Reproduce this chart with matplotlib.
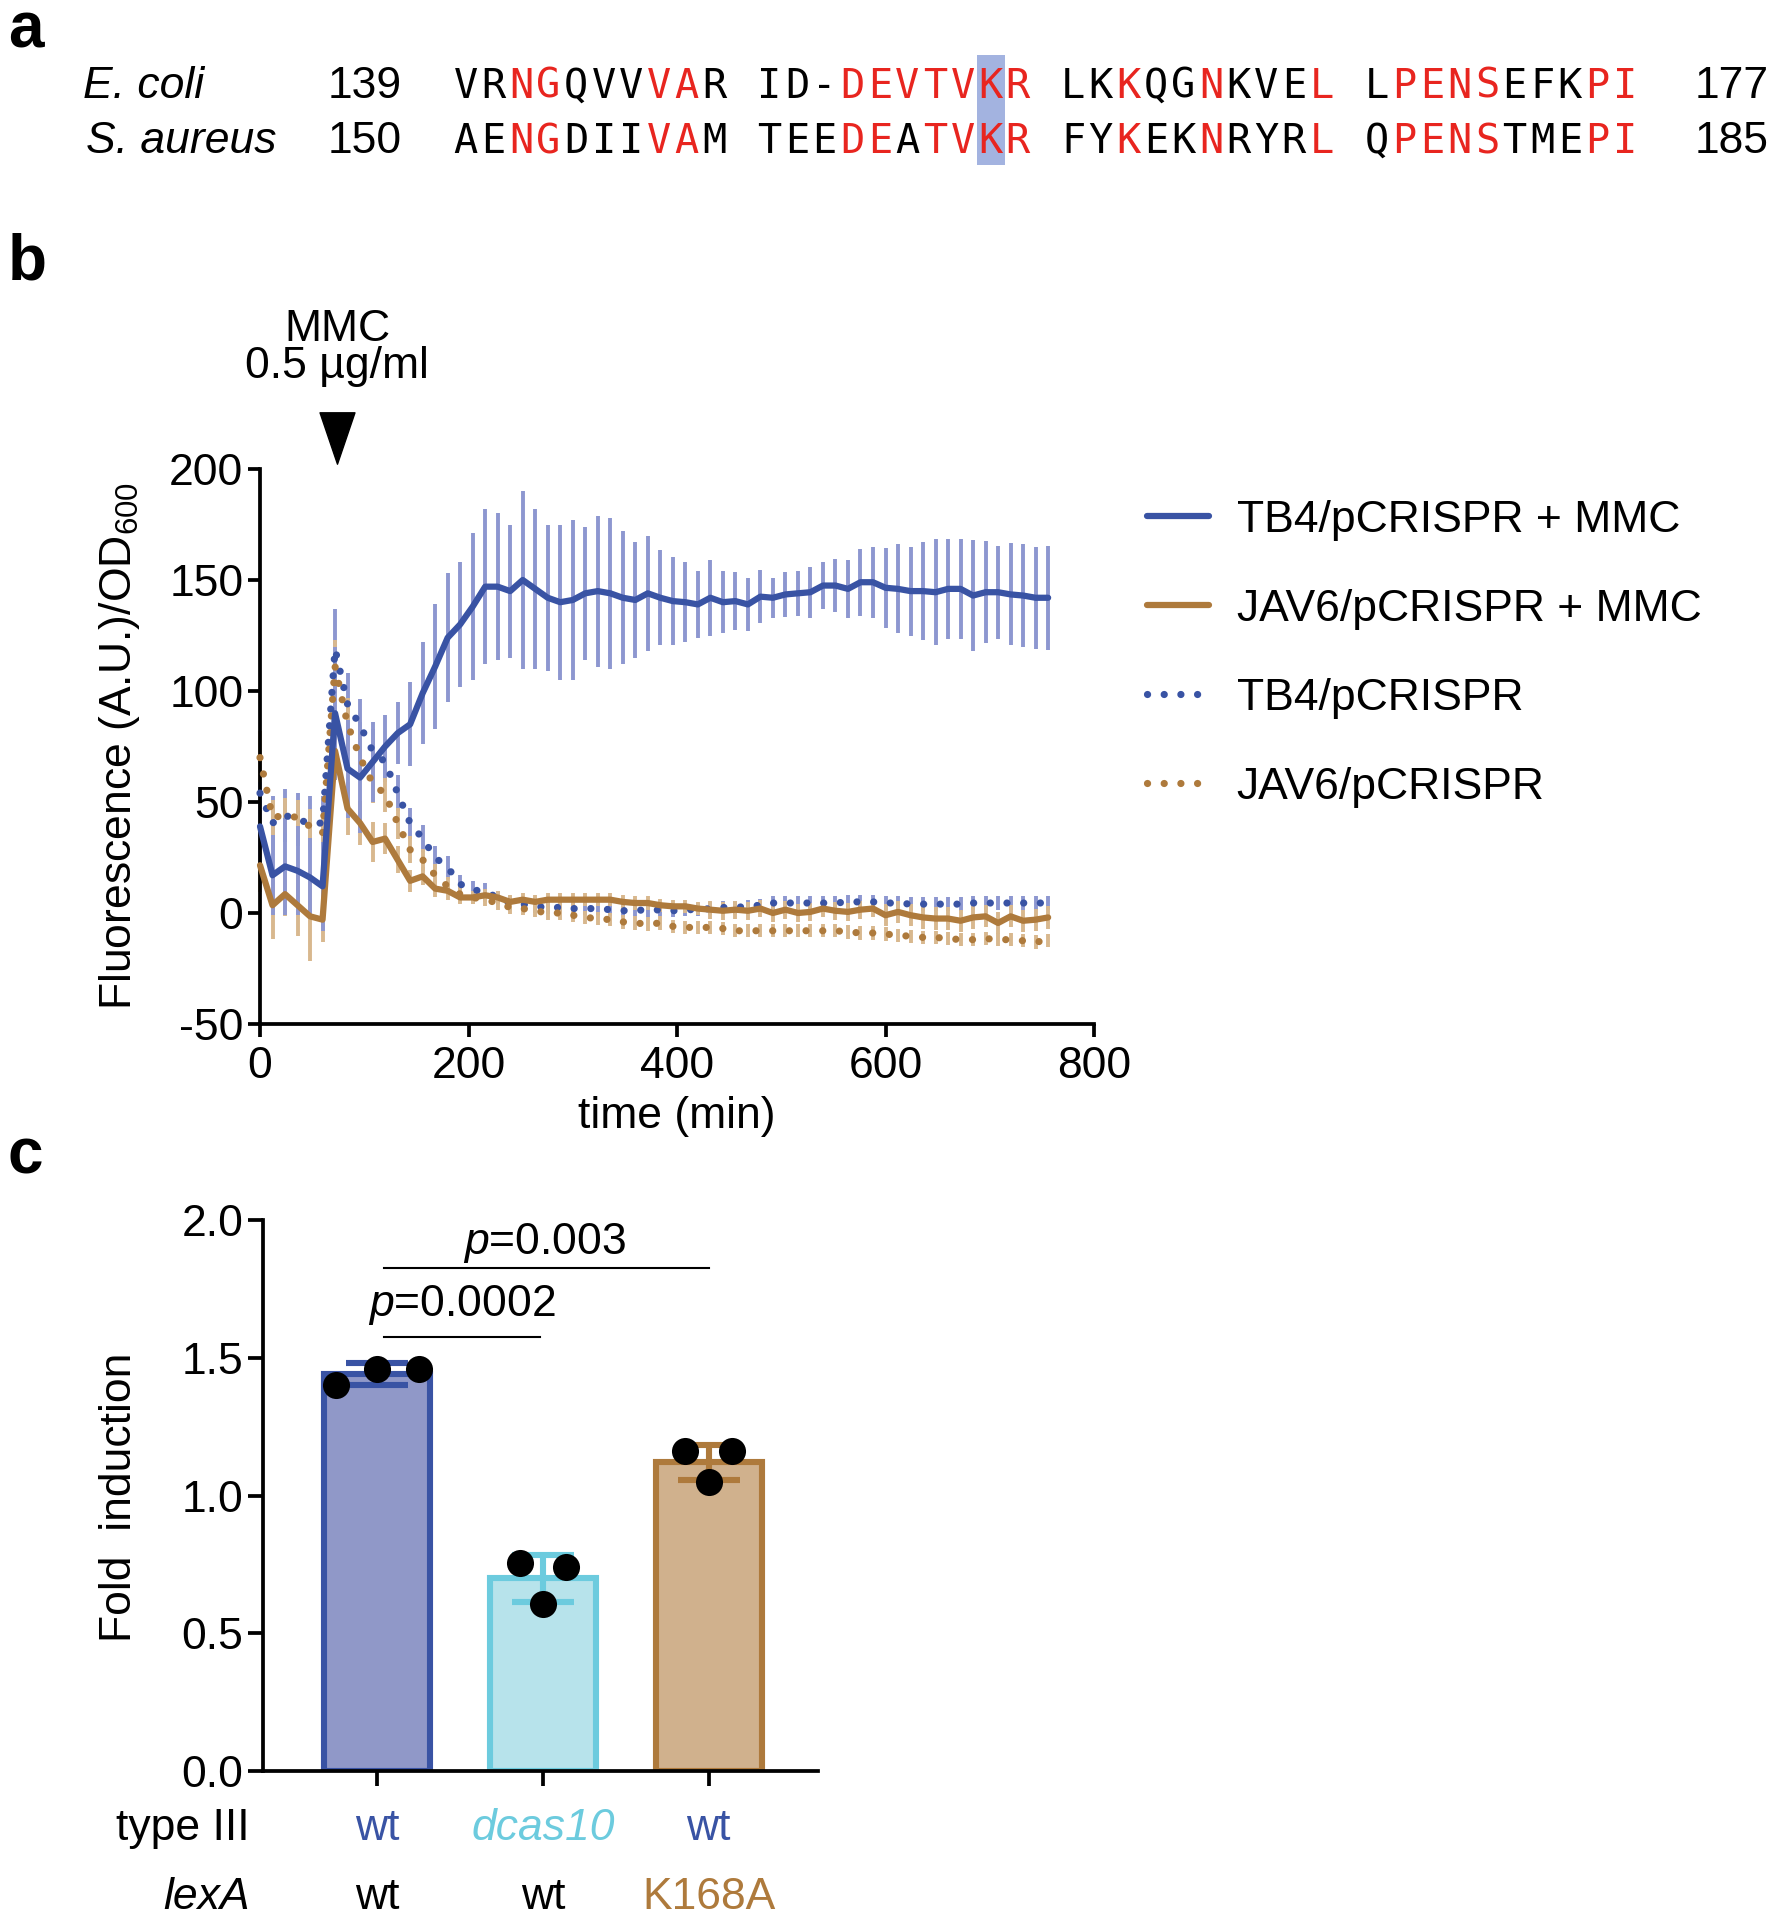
import numpy as np
import matplotlib
matplotlib.use('Agg')
import matplotlib.pyplot as plt
from matplotlib.patches import Rectangle
from matplotlib.lines import Line2D
from matplotlib.path import Path

plt.rcParams['font.family'] = ['Liberation Sans', 'DejaVu Sans']
plt.rcParams['mathtext.fontset'] = 'custom'
plt.rcParams['mathtext.rm'] = 'Liberation Sans'
plt.rcParams['mathtext.it'] = 'Liberation Sans:italic'
plt.rcParams['axes.unicode_minus'] = False

# ---------------- data ----------------
# panel a: LexA alignment
species = ['E. coli', 'S. aureus']
start_pos = ['139', '150']
end_pos = ['177', '185']
sequences = ['VRNGQVVVAR ID-DEVTVKR LKKQGNKVEL LPENSEFKPI',
             'AENGDIIVAM TEEDEATVKR FYKEKNRYRL QPENSTMEPI']
red_masks = ['..xx...xx. ...xxxxxxx ..x..x...x .xxxx...xx',
             '..xx...xx. ...xx.xxxx ..x..x...x .xxxx...xx']
highlight_col = 19

# panel b: fluorescence time course (min)
time = [0, 12, 24, 36, 48, 60, 72, 84, 96, 108, 120, 132, 144, 156, 168, 180,
        192, 204, 216, 228, 240, 252, 264, 276, 288, 300, 312, 324, 336, 348,
        360, 372, 384, 396, 408, 420, 432, 444, 456, 468, 480, 492, 504, 516,
        528, 540, 552, 564, 576, 588, 600, 612, 624, 636, 648, 660, 672, 684,
        696, 708, 720, 732, 744, 756]
tb4_mmc = [39, 17, 21, 19, 16, 12, 90, 65, 61, 68, 75, 81, 85, 99, 111, 124, 130, 138, 147, 147,
           145, 150, 146, 142, 140, 141, 144, 145, 144, 142, 141, 144, 142, 140.5, 140, 139, 142, 140,
           140.5, 139, 142.5, 142, 143.5, 144, 144.5, 147.5, 147.5, 146, 149, 149, 146.5, 146, 145,
           145, 144.5, 146, 146, 143, 144.5, 144.5, 143.5, 143, 142, 142]
tb4_mmc_sd = [20, 18, 22, 20, 18, 20, 30, 22, 25, 18, 14, 14, 19, 23, 28, 29, 28, 33, 35, 33,
              30, 40, 36, 33, 35, 36, 30, 34, 34, 30, 26, 26, 21.5, 20, 18, 15, 17, 14, 13, 12,
              12, 9, 10, 10, 11.5, 10.5, 12, 13, 15, 16, 18, 20, 20, 22, 24, 22.5, 22.5, 25, 23, 21,
              23, 23, 23, 23.5]
jav6_mmc = [21.5, 3.5, 8.5, 3.5, -1.5, -3, 73, 47, 40.5, 32, 33.5, 24, 14.5, 16.5, 11, 10, 7, 7, 8, 7,
            5, 6, 5, 6, 6, 6, 6, 6, 6, 5, 4.5, 4.5, 3.5, 3, 3, 2, 1.5, 1, 1.5, 1,
            2, 0, 1.5, 0, 0.5, 2, 1, 0.5, 1.5, 2, -1, 0.5, -1, -2, -2.5, -2.5, -3.5, -2, -1.5, -4.5,
            -1.5, -3.5, -3, -2]
jav6_mmc_sd = [12, 15, 10, 14, 20, 10, 12, 12, 10, 9, 7, 6, 5, 4, 4, 4, 3, 3, 3, 3,
               3, 3, 3, 3, 3, 3, 3, 3, 3, 3, 3, 3, 3, 3, 3, 3, 4, 4, 4, 4,
               4, 4, 4, 4, 4, 4, 4, 4, 4, 4, 5, 5, 5, 5, 5, 5, 5, 5, 5, 5,
               5, 5, 5, 5]
tb4 = [54, 40.5, 44, 42, 40.5, 40.5, 119, 94, 84.5, 73, 68, 54, 40.5, 33.5, 25, 20.5, 13, 10.5, 9.5, 7,
       4.5, 4, 3, 2.5, 2.5, 2, 2, 2, 1.5, 1, 1.5, 1, 1.5, 1, 1.5, 1.5, 2, 2.5, 2.5, 3,
       3.5, 4.5, 4.5, 4.5, 4.5, 4.5, 4.5, 5, 5, 5, 4.5, 4.5, 4, 4, 4, 4, 4, 4.5, 4.5, 4.5,
       4.5, 4.5, 4.5, 4.5]
tb4_sd = [15, 12, 12, 12, 12, 12, 18, 14, 12, 10, 9, 8, 7, 6, 5, 5, 4, 4, 4, 3,
          3, 3, 3, 3, 3, 3, 3, 3, 3, 3, 3, 3, 3, 3, 3, 3, 3, 3, 3, 3,
          3, 3, 3, 3, 3, 3, 3, 3, 3, 3, 3, 3, 3, 3, 3, 3, 3, 3, 3, 3,
          3, 3, 3, 3]
jav6 = [70, 43, 44, 43, 39, 36, 111, 85, 70, 58.5, 53.5, 40.5, 28.5, 24, 17, 12, 8.5, 7, 6, 4.5,
        2.5, 2, 1, 0, 0, -1, -2, -2.5, -3, -4, -4.5, -5, -4.5, -6, -6.5, -6.5, -6.5, -7, -8, -8,
        -8, -8, -8, -8, -8, -8, -8, -8.5, -9, -9, -9.5, -10, -10.5, -11, -11, -11.5, -12, -12, -11.5, -12,
        -12, -12.5, -13, -12.5]
jav6_sd = [12, 8, 8, 8, 8, 8, 12, 12, 10, 9, 8, 7, 6, 5, 5, 4, 4, 3, 3, 3,
           3, 3, 3, 3, 3, 3, 3, 3, 3, 3, 3, 3, 3, 3, 3, 3, 3, 3, 3, 3,
           3, 3, 3, 3, 3, 3, 3, 3, 3, 3, 3, 3, 3, 3, 3, 3, 3, 3, 3, 3,
           3, 3, 3, 3]
series_labels = ['TB4/pCRISPR + MMC', 'JAV6/pCRISPR + MMC', 'TB4/pCRISPR', 'JAV6/pCRISPR']

# panel c: fold induction
type3 = ['wt', 'dcas10', 'wt']
lexA = ['wt', 'wt', 'K168A']
fold_mean = [1.44, 0.70, 1.12]
fold_sd = [0.04, 0.085, 0.065]
fold_reps = [[1.40, 1.46, 1.46], [0.755, 0.74, 0.605], [1.16, 1.16, 1.05]]
p_values = ['0.0002', '0.003']

# ---------------- style ----------------
BLUE = '#3953A4'
BROWN = '#AE7A3C'
BLUE_ERR = '#8D97D0'
BROWN_ERR = '#D8B88E'
CYAN = '#6CCBDE'
RED = '#E8251F'
FS = 32
W, H = 1777, 1920

fig = plt.figure(figsize=(W / 100, H / 100), dpi=100)


def fig_box(x0, y0, x1, y1):
    return [x0 / W, 1 - y1 / H, (x1 - x0) / W, (y1 - y0) / H]


# overlay in pixel coords for panel a and panel letters
ov = fig.add_axes([0, 0, 1, 1])
ov.set_xlim(0, W)
ov.set_ylim(H, 0)
ov.axis('off')

for lab, y in zip(['a', 'b', 'c'], [47, 279, 1173]):
    ov.text(8, y, lab, fontsize=46, fontweight='bold', va='baseline', ha='left')

pitch = 27.6
seq_x0 = 452
ov.add_patch(Rectangle((seq_x0 + highlight_col * pitch + 1, 55), pitch, 110,
                       color='#A3B3E0', lw=0, zorder=0))
for row, yb in enumerate([98, 153]):
    ov.text(83 if row == 0 else 86, yb, species[row], style='italic', fontsize=FS, va='baseline')
    ov.text(328, yb, start_pos[row], fontsize=FS, va='baseline')
    ov.text(1695, yb, end_pos[row], fontsize=FS, va='baseline')
    for j, (ch, m) in enumerate(zip(sequences[row], red_masks[row])):
        if ch == ' ':
            continue
        ov.text(seq_x0 + (j + 0.5) * pitch, yb, ch, family='DejaVu Sans Mono', fontsize=29,
                color=RED if m == 'x' else 'black', ha='center', va='baseline', zorder=2)

# ---------------- panel b ----------------
axb = fig.add_axes(fig_box(260, 469, 1094, 1024))
t = np.array(time)
dot = (0, (0.01, 2.3))
specs = [(tb4, tb4_sd, BLUE, BLUE_ERR, dot),
         (jav6, jav6_sd, BROWN, BROWN_ERR, dot),
         (jav6_mmc, jav6_mmc_sd, BROWN, BROWN_ERR, '-'),
         (tb4_mmc, tb4_mmc_sd, BLUE, BLUE_ERR, '-')]
for vals, sd, col, ecol, ls in specs:
    v = np.array(vals)
    s = np.array(sd)
    axb.vlines(t, v - s, v + s, colors=ecol, lw=2.8, zorder=1, clip_on=False)
for vals, sd, col, ecol, ls in specs:
    axb.plot(t, vals, color=col, lw=5.2 if ls == dot else 4.5, ls=ls, dash_capstyle='round',
             solid_capstyle='round', solid_joinstyle='round', zorder=3, clip_on=False)

axb.set_xlim(0, 800)
axb.set_ylim(-50, 200)
axb.set_xticks([0, 200, 400, 600, 800])
axb.set_yticks([-50, 0, 50, 100, 150, 200])
for s in ['top', 'right']:
    axb.spines[s].set_visible(False)
for s in ['left', 'bottom']:
    axb.spines[s].set_linewidth(2.7)
axb.tick_params(width=2.7, length=9, labelsize=FS, direction='out')
axb.tick_params(axis='x', pad=7)
axb.tick_params(axis='y', pad=3)
axb.text(-0.168, 0.5, 'Fluorescence (A.U.)/OD$_{600}$', transform=axb.transAxes,
         rotation=90, ha='center', va='center', fontsize=FS)
axb.text(0.5, -0.166, 'time (min)', transform=axb.transAxes, ha='center', va='center',
         fontsize=FS)

tri = Path([(-0.68, 1), (0.68, 1), (0, -1), (-0.68, 1)],
           [Path.MOVETO, Path.LINETO, Path.LINETO, Path.CLOSEPOLY])
axb.plot([74], [214], marker=tri, ms=37, color='black', clip_on=False, ls='none')
axb.text(74, 263, 'MMC', ha='center', va='center', fontsize=FS)
axb.text(74, 246, '0.5 µg/ml', ha='center', va='center', fontsize=FS)

handles = [Line2D([], [], color=BLUE, lw=4.5, solid_capstyle='round'),
           Line2D([], [], color=BROWN, lw=4.5, solid_capstyle='round'),
           Line2D([], [], color=BLUE, lw=5.2, ls=dot, dash_capstyle='round'),
           Line2D([], [], color=BROWN, lw=5.2, ls=dot, dash_capstyle='round')]
fig.legend(handles, series_labels, loc='upper left', bbox_to_anchor=(1147 / W, 1 - 500 / H),
           frameon=False, fontsize=FS, borderpad=0, borderaxespad=0, handlelength=1.4,
           handletextpad=0.62, labelspacing=1.08)

# ---------------- panel c ----------------
axc = fig.add_axes(fig_box(263, 1220, 818, 1771))
xc = np.arange(len(fold_mean))
faces = ['#9098C8', '#B7E3EB', '#D0B18D']
edges = [BLUE, CYAN, BROWN]
jitter = [[-0.25, 0, 0.25], [-0.14, 0.14, 0], [-0.14, 0.14, 0]]
axc.bar(xc, fold_mean, width=0.64, color=faces, edgecolor=edges, linewidth=4.4, zorder=2)
for i in range(3):
    axc.errorbar(xc[i], fold_mean[i], yerr=fold_sd[i], color=edges[i], elinewidth=4.4,
                 capsize=22, capthick=4.4, zorder=3)
    axc.scatter(xc[i] + np.array(jitter[i]), fold_reps[i], s=380, color='black', zorder=4,
                clip_on=False, linewidths=0)

axc.set_xlim(-0.69, 2.66)
axc.set_ylim(0, 2.0)
axc.set_yticks([0, 0.5, 1.0, 1.5, 2.0])
axc.set_yticklabels(['0.0', '0.5', '1.0', '1.5', '2.0'])
axc.set_xticks(xc)
axc.set_xticklabels([])
for s in ['top', 'right']:
    axc.spines[s].set_visible(False)
for s in ['left', 'bottom']:
    axc.spines[s].set_linewidth(2.7)
    axc.spines[s].set_zorder(5)
axc.tick_params(width=2.7, length=11, labelsize=FS, direction='out')
axc.tick_params(axis='y', pad=3)
axc.text(-0.258, 0.497, 'Fold  induction', transform=axc.transAxes, rotation=90,
         ha='center', va='center', fontsize=FS)

# significance bars
axc.plot([0.04, 0.98], [1.575, 1.575], color='black', lw=1.5)
axc.plot([0.04, 2.0], [1.827, 1.827], color='black', lw=1.5)
axc.text(0.51, 1.69, '$p$=' + p_values[0], ha='center', va='center', fontsize=FS)
axc.text(1.01, 1.915, '$p$=' + p_values[1], ha='center', va='center', fontsize=FS)

# category labels
tr = axc.get_xaxis_transform()
axc.text(-0.77, -0.104, 'type III', transform=tr, ha='right', va='center', fontsize=FS)
axc.text(-0.77, -0.229, 'lexA', transform=tr, ha='right', va='center', fontsize=FS,
         style='italic')
t3_cols = [BLUE, CYAN, BLUE]
lx_cols = ['black', 'black', BROWN]
for i in range(3):
    axc.text(xc[i], -0.104, type3[i], transform=tr, ha='center', va='center', fontsize=FS,
             color=t3_cols[i], style='italic' if type3[i] != 'wt' else 'normal')
    axc.text(xc[i], -0.229, lexA[i], transform=tr, ha='center', va='center', fontsize=FS,
             color=lx_cols[i])

fig.savefig('out.png', dpi=100)
